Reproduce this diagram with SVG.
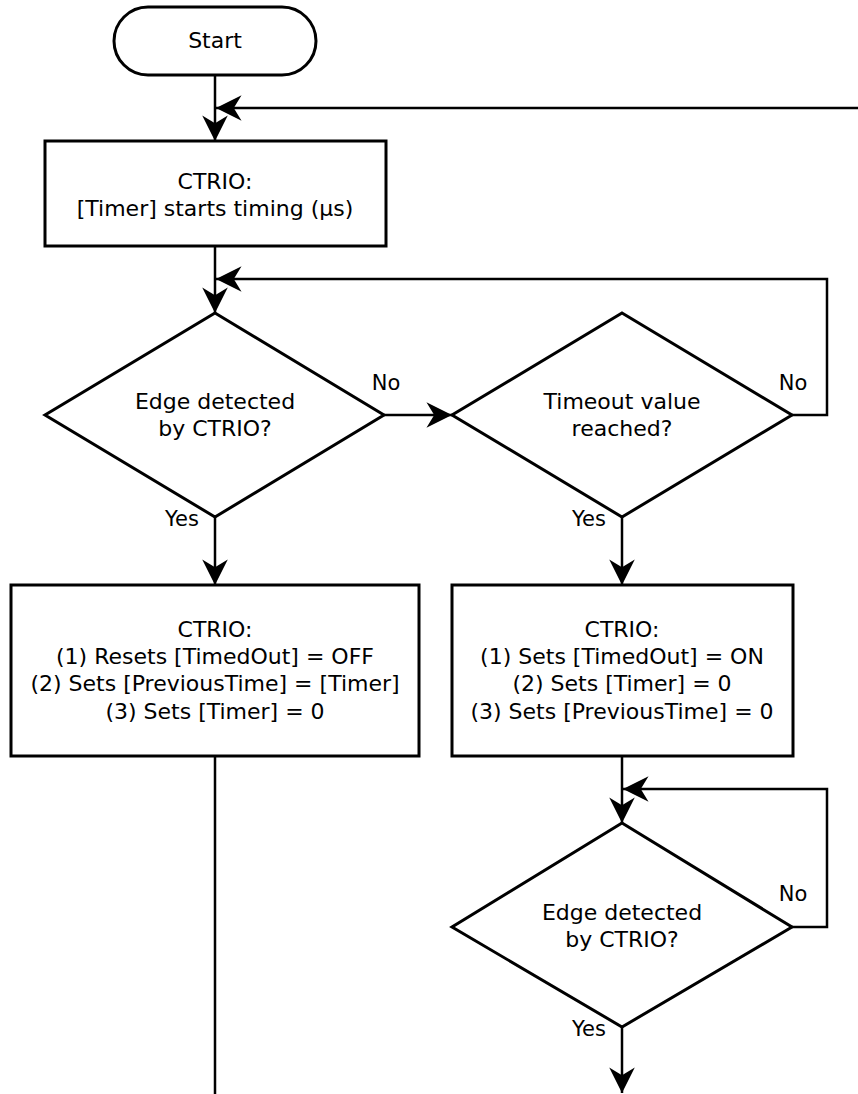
<svg xmlns="http://www.w3.org/2000/svg" width="858" height="1094" viewBox="0 0 858 1094">
<style>
.shape{fill:#fff;stroke:#000;stroke-width:3}
.conn{fill:none;stroke:#000;stroke-width:2.5}
text{font-family:"DejaVu Sans",sans-serif;font-size:22px;fill:#000;text-anchor:middle}
.lbl{font-size:21px}
</style>
<defs>
<marker id="arr" markerUnits="userSpaceOnUse" markerWidth="30" markerHeight="30" viewBox="-25 -13 27 26" refX="0" refY="0" orient="auto">
<path d="M0,0 L-23,-11.5 L-16,0 L-23,11.5 Z" fill="#000"/>
</marker>
</defs>
<rect width="858" height="1094" fill="#fff"/>
<g id="connectors">
<path class="conn" d="M215,75 V141" marker-end="url(#arr)"/>
<path class="conn" d="M858,108 H216" marker-end="url(#arr)"/>
<path class="conn" d="M215,246 V313" marker-end="url(#arr)"/>
<path class="conn" d="M792,415 H827 V279 H216" marker-end="url(#arr)"/>
<path class="conn" d="M384,415 H452" marker-end="url(#arr)"/>
<path class="conn" d="M215,517 V585" marker-end="url(#arr)"/>
<path class="conn" d="M622,517 V585" marker-end="url(#arr)"/>
<path class="conn" d="M215,756 V1094"/>
<path class="conn" d="M622,756 V823" marker-end="url(#arr)"/>
<path class="conn" d="M792,927 H827 V789 H623" marker-end="url(#arr)"/>
<path class="conn" d="M622,1027 V1093" marker-end="url(#arr)"/>
<text class="lbl" x="386" y="390">No</text>
<text class="lbl" x="793" y="390">No</text>
<text class="lbl" x="182" y="526">Yes</text>
<text class="lbl" x="589" y="526">Yes</text>
<text class="lbl" x="793" y="901">No</text>
<text class="lbl" x="589" y="1036">Yes</text>
</g>
<g id="start">
<rect class="shape" x="114" y="7" width="202" height="68" rx="34"/>
<text x="215" y="48">Start</text>
</g>
<g id="timer-start">
<rect class="shape" x="45" y="141" width="341" height="105"/>
<text x="215" y="189">CTRIO:</text>
<text x="215" y="216">[Timer] starts timing (µs)</text>
</g>
<g id="edge1">
<path class="shape" d="M215,313 L384,415 L215,517 L45,415 Z"/>
<text x="215" y="409">Edge detected</text>
<text x="215" y="436">by CTRIO?</text>
</g>
<g id="timeout">
<path class="shape" d="M622,313 L792,415 L622,517 L452,415 Z"/>
<text x="622" y="409">Timeout value</text>
<text x="622" y="436">reached?</text>
</g>
<g id="reset-box">
<rect class="shape" x="11" y="585" width="408" height="171"/>
<text x="215" y="637">CTRIO:</text>
<text x="215" y="664">(1) Resets [TimedOut] = OFF</text>
<text x="215" y="691">(2) Sets [PreviousTime] = [Timer]</text>
<text x="215" y="719">(3) Sets [Timer] = 0</text>
</g>
<g id="timedout-box">
<rect class="shape" x="452" y="585" width="341" height="171"/>
<text x="622" y="637">CTRIO:</text>
<text x="622" y="664">(1) Sets [TimedOut] = ON</text>
<text x="622" y="691">(2) Sets [Timer] = 0</text>
<text x="622" y="719">(3) Sets [PreviousTime] = 0</text>
</g>
<g id="edge2">
<path class="shape" d="M622,823 L792,927 L622,1027 L452,927 Z"/>
<text x="622" y="920">Edge detected</text>
<text x="622" y="947">by CTRIO?</text>
</g>
</svg>
